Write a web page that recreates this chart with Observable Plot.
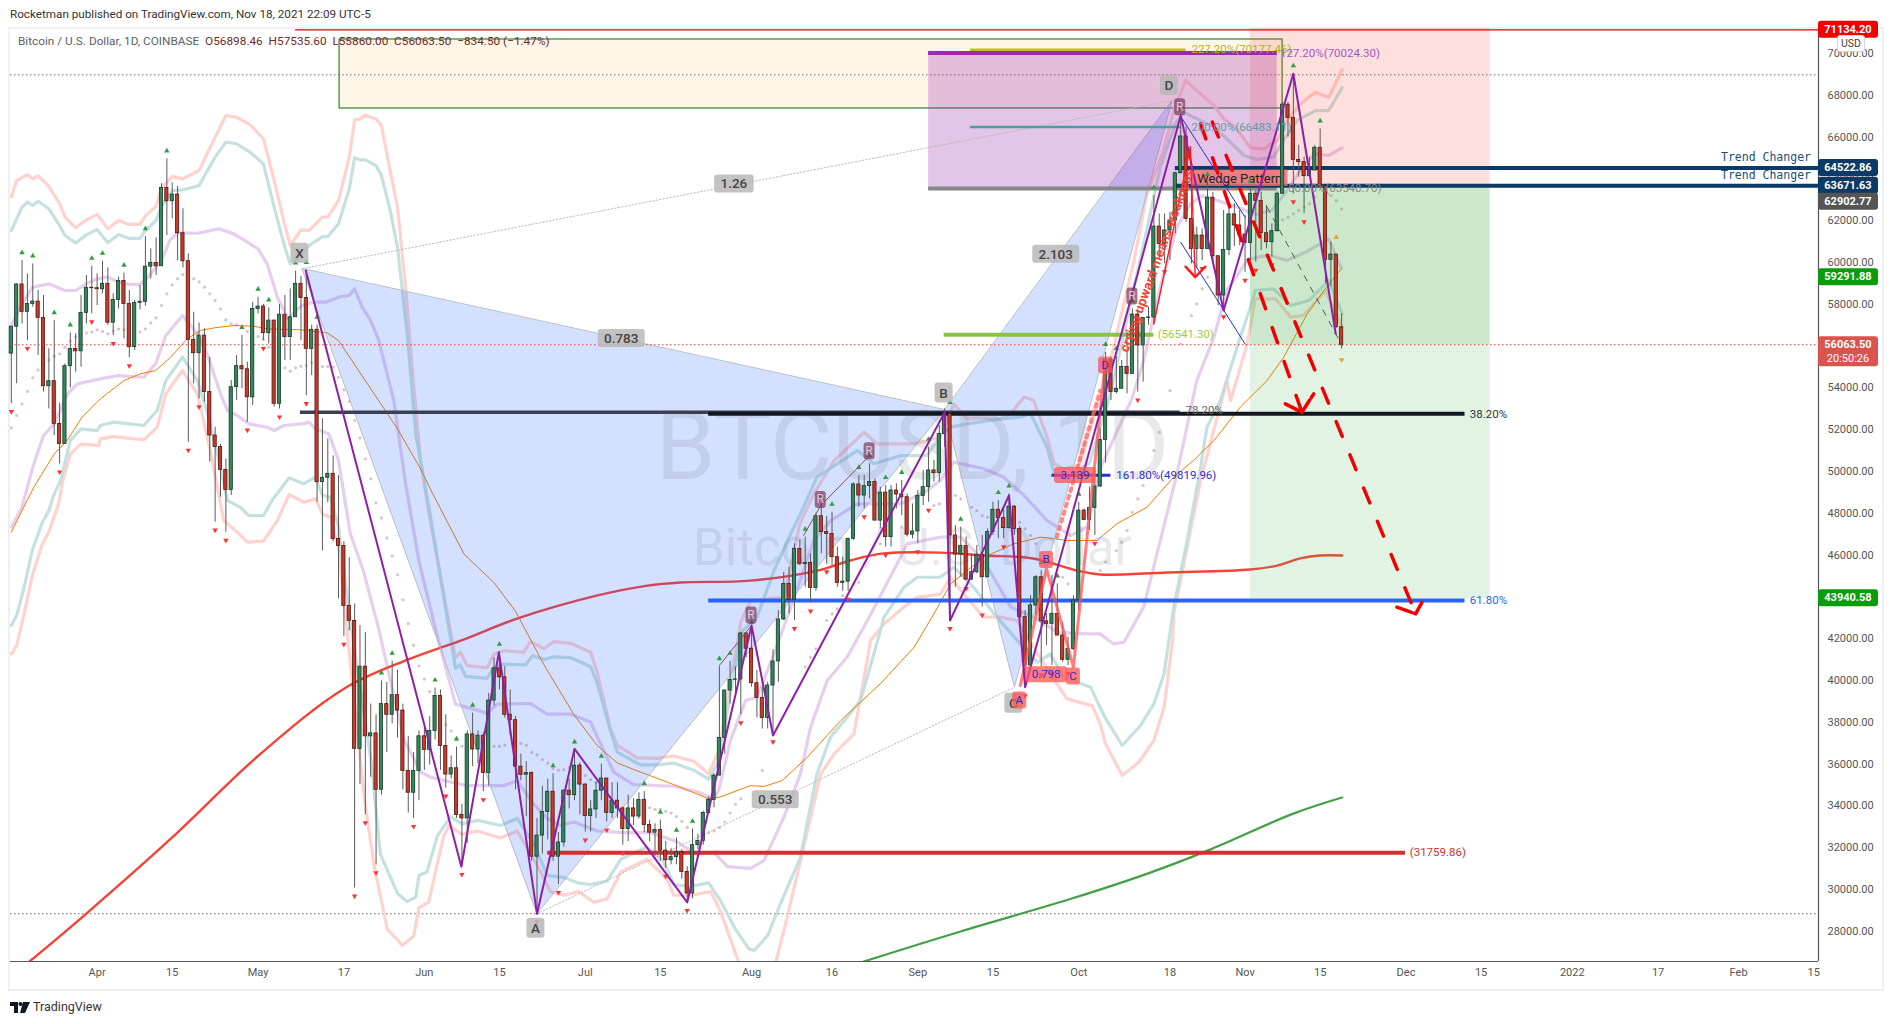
<!DOCTYPE html>
<html><head><meta charset="utf-8">
<script src="https://cdn.jsdelivr.net/npm/d3@7"></script>
<script src="https://cdn.jsdelivr.net/npm/@observablehq/plot@0.6"></script>
<style>
html,body{margin:0;padding:0;background:#fff;width:1892px;height:1024px;overflow:hidden;font-family:Roboto,sans-serif}
#wrap{position:relative;width:1892px;height:1024px}
#wrap svg.chart{position:absolute;left:0;top:0}
.h{position:absolute;white-space:pre}
#frame{position:absolute;left:8px;top:27px;width:1872px;height:960px;border:2px solid #eef0f3}
</style></head><body><div id="wrap">
<div id="frame"></div>
<div class="h" style="left:10px;top:7px;font-size:11.7px;color:#333">Rocketman published on TradingView.com, Nov 18, 2021 22:09 UTC-5</div>
<div id="root"></div>
<div class="h" style="left:18px;top:34px;font-size:11.8px;color:#5d606b;z-index:3">Bitcoin / U.S. Dollar, 1D, COINBASE  <span style="color:#6e2b2b">O56898.46  H57535.60  L55860.00  C56063.50  −834.50 (−1.47%)</span></div>
<div class="h" style="left:1837px;top:35px;width:26px;height:15px;line-height:15px;text-align:center;font-size:10.5px;color:#444;background:#fff;border:1px solid #d5d7dc;border-radius:3px;z-index:3">USD</div>
<svg class="h" style="left:10px;top:1002px" width="20" height="11" viewBox="0 0 20 11"><path d="M0 0H8V11H4V4H0Z M13 0H20L15 11H10Z" fill="#131722"/><circle cx="10.5" cy="2" r="2" fill="#131722"/></svg>
<div class="h" style="left:33px;top:999px;font-size:12.5px;color:#333">TradingView</div>
</div>
<script>
// Daily candles, first one is 16 Mar 2021
const firstDay = -16;
const opens = [
55640,56930,58950,57640,58020,58130,57350,54080,54320,52280,51320,55040,55860,55750,57590,58790,
58770,58720,58980,57120,58210,59120,58020,55950,58070,58120,59800,59980,59820,63570,62930,63250,61400,60060,56300,55660,56500,53800,51720,51170,50080,49120,54035,55040,54890,53550,
57780,57890,56620,57220,53240,57500,56430,57380,58980,58300,55870,56780,49490,49700,49890,46770,46440,43570,42850,36730,40660,37330,37470,34770,38870,38360,39300,38560,35675,34630,35675,
37330,36680,37590,39260,36870,35500,35800,33570,33400,37420,36700,37360,35570,39040,40580,40150,38360,38100,35880,35490,35570,31570,32580,33710,34680,31570,32250,34730,34510,35930,
35020,33520,33830,34730,35310,33660,34250,33880,32890,33880,33490,34290,33090,32720,32850,31860,31400,31550,31780,30840,29810,32120,32320,33660,34290,35450,37250,39520,40030,40050,42250,
41520,39870,39170,38210,39760,40910,42920,44620,43860,46300,45580,45630,44430,47860,47100,47010,45900,44670,44730,46780,49380,48850,49300,49500,47650,48990,46860,49090,48900,48770,46980,
47130,48830,49250,50050,49920,51800,52760,46940,46030,46430,44830,45180,46010,44940,47100,48170,47770,47290,48320,47250,43030,40720,43590,44940,42830,42710,43190,42150,40990,41510,
43830,48130,47680,48260,49280,51510,55360,53800,53960,55000,54670,57510,56030,57350,57370,61720,60890,61530,62010,64270,66030,62090,60650,61290,60650,63100,60300,58420,60600,62300,61770,
61340,60930,63290,62940,61400,60970,61500,63290,67550,66920,64910,64800,64130,64400,65490,63640,60130,60380,56898];
const closes = [
56930,58950,57640,58020,58130,57350,54080,54320,52280,51320,55040,55860,55750,57590,58790,58770,
58720,58980,57120,58210,59120,58020,55950,58070,58120,59800,59980,59820,63570,62930,63250,61400,60060,56300,55660,56500,53800,51720,51170,50080,49120,54035,55040,54890,53550,57780,
57890,56620,57220,53240,57500,56430,57380,58980,58300,55870,56780,49490,49700,49890,46770,46440,43570,42850,36730,40660,37330,37470,34770,38870,38360,39300,38560,35675,34630,35675,37330,
36680,37590,39260,36870,35500,35800,33570,33400,37420,36700,37360,35570,39040,40580,40150,38360,38100,35880,35490,35570,31570,32580,33710,34680,31570,32250,34730,34510,35930,35020,
33520,33830,34730,35310,33660,34250,33880,32890,33880,33490,34290,33090,32720,32850,31860,31400,31550,31780,30840,29810,32120,32320,33660,34290,35450,37250,39520,40030,40050,42250,41520,
39870,39170,38210,39760,40910,42920,44620,43860,46300,45580,45630,44430,47860,47100,47010,45900,44670,44730,46780,49380,48850,49300,49500,47650,48990,46860,49090,48900,48770,46980,47130,
48830,49250,50050,49920,51800,52760,46940,46030,46430,44830,45180,46010,44940,47100,48170,47770,47290,48320,47250,43030,40720,43590,44940,42830,42710,43190,42150,40990,41510,43830,
48130,47680,48260,49280,51510,55360,53800,53960,55000,54670,57510,56030,57350,57370,61720,60890,61530,62010,64270,66030,62090,60650,61290,60650,63100,60300,58420,60600,62300,61770,61340,
60930,63290,62940,61400,60970,61500,63290,67550,66920,64910,64800,64130,64400,65490,63640,60130,60380,56900,56063];
const highs = [
56950,58980,60090,59450,59930,58660,58420,55870,57220,53270,55150,56630,56585,58420,59380,59820,
59460,60060,59740,58500,59300,59490,58660,58180,58900,61240,60650,61180,63770,64960,63810,63640,62570,60410,57620,57100,56830,55470,52120,51290,50600,54350,55550,56510,55230,58100,
58340,57990,57830,57250,57990,58420,58740,59590,59330,59620,57000,57000,52520,51560,50750,49800,46640,45880,43660,42630,42290,38870,38360,39980,39900,40920,40490,38870,37330,36560,37590,
37760,38270,39640,39550,38360,36390,36820,34080,37590,38440,37590,37500,39380,41090,41350,40660,39550,38270,36480,36120,35620,33400,34940,35280,35540,32720,34770,35280,36680,36050,
35075,34250,35140,36000,35310,35110,35110,33950,34510,34340,34630,34680,33320,33140,33320,32290,31950,32460,31900,31090,32890,32630,33740,34430,35540,40660,39550,40920,40660,42290,42290,
42390,40480,39680,39920,41470,43350,45180,45420,46540,46730,46860,46060,48000,48450,47850,48050,46380,45900,46780,49460,49810,49810,50370,49650,49250,49330,49330,49410,49570,48930,48450,
49090,50050,51160,50520,52200,53000,52920,47410,47340,46860,46060,46460,46940,47260,48530,48610,48210,48930,48370,47370,43350,44060,45020,45260,43190,45020,44620,42790,42070,44060,
48530,48210,49250,49490,52040,55700,55470,55500,55310,56660,57780,57780,57350,57860,63205,62320,62320,62400,64320,66950,66475,63525,61690,61610,63840,63360,60300,62490,62810,62810,62490,
62250,63525,63445,63365,62725,61850,63365,67670,67670,69030,65600,65040,65040,65600,66395,63640,60970,60380,57535];
const lows = [
53250,54200,57060,56270,57860,55550,53800,52990,51720,50360,51320,54000,54750,54990,57060,57540,
57940,58500,56985,56510,57780,56350,55440,55790,57730,57910,59220,59380,59940,61290,62090,60090,59730,51400,54190,53480,53320,50450,47580,48770,47090,48850,53400,53960,52360,53160,
57540,56270,56100,53080,52990,55310,55310,57380,56270,53630,54590,48530,46200,48500,46640,43910,42110,42370,30070,35025,33570,35370,31180,34510,36560,37930,37250,34770,33660,33400,34250,
35700,35950,37160,35700,34850,35280,33400,31100,32200,35880,36000,34680,34940,38780,39550,38190,37370,34770,35200,33480,31350,28840,31700,32380,31350,30240,32030,33850,34250,33570,
32750,32750,33400,34250,33230,33400,33400,32120,32290,33060,33370,32720,32290,31600,31350,31010,31180,31180,30490,29380,29550,31900,32120,33660,33910,35450,36480,38870,39380,38360,41090,
39680,38210,37680,37680,37450,39920,42870,43190,42870,45500,44460,43700,44270,46060,45580,45500,44460,44270,44270,46700,48290,48210,48690,47650,47250,46380,46380,48210,47890,46860,46780,
46540,48370,48530,49490,49500,51160,42870,44460,44940,44780,44780,45100,43510,44940,46940,46780,46780,47250,46940,42870,39650,40700,43110,40640,41670,40720,42150,40870,40720,41430,
43350,47650,47180,46940,49250,50400,53400,53715,53950,53715,54670,53796,54274,57000,57060,60160,59940,60090,61370,64240,61930,59935,59700,60090,60650,59935,57940,57780,60330,60765,60800,
59530,60090,60015,60570,60650,60255,61450,63290,66000,63285,64080,62330,64170,64400,63525,59000,58820,56860,55860];

// Pivot markers, as day numbers counted from 1 Apr 2021
const pivotHighDays = [-14,-12,-8,-5,-1,1,5,9,13,27,30,32,37,39,41,53,55,63,67,70,75,85,89,94,102,105,108,111,116,118,122,132,135,137,142,144,147,150,155,159,161,168,170,176,179,183,188,190,193,197,202,207,215,223,228];
const pivotLowDays = [-16,-13,-7,-1,3,6,17,19,22,24,28,31,34,39,46,48,50,52,59,65,68,72,82,86,91,95,98,106,110,120,126,130,133,136,140,143,147,153,155,159,162,165,169,173,176,178,181,186,194,199,206,210,214,216,219,223,225];

// Parabolic dots [day, price]
const sarDots = [[-16,52090],[-15,52680],[-14,53240],[-13,53830],[-12,54480],[-11,54860],[-10,55100],[-9,55340],[-8,55520],[-7,55630],[-6,55950],[-5,56240],[-4,56430],[-3,56590],[-2,56630],[-1,56670],[0,56780],[1,56700],[2,56590],[3,56720],[4,56810],[5,56780],[8,56670],[9,56830],[10,57110],[11,57350],[12,57940],[13,58500],[14,58930],[15,59220],[16,59430],[18,59220],[19,59070],[20,58820],[21,58500],[22,58180],[23,57780],[24,57260],[25,57070],[26,57020],[27,56900],[28,56700],[29,56660],[30,56460],[31,56310],[32,55950],[35,54960],[36,54800],[37,54960],[38,55040],[39,55070],[40,55200],[42,55020],[43,55020],[44,54990],[45,54510],[46,53910],[47,53350],[48,52440],[49,51610],[50,50610],[51,49650],[52,48500],[53,47780],[54,46820],[55,45960],[56,45060],[57,43860],[58,42720],[59,41690],[60,40700],[61,40070],[62,39470],[65,37880],[66,37590],[67,37160],[68,36850],[74,36850],[75,36850],[76,36900],[78,37080],[79,36990],[80,36900],[81,36560],[82,36440],[83,36220],[84,36050],[85,35790],[86,35710],[87,35740],[88,35830],[91,35450],[92,35250],[93,35110],[103,33910],[104,33830],[105,33830],[106,33740],[107,33660],[108,33490],[109,33260],[110,32970],[114,32720],[115,32800],[116,32970],[117,33230],[118,33660],[119,34080],[120,34340],[124,35690],[132,40640],[133,41110],[134,41510],[136,42870],[137,43190],[138,43430],[139,44060],[141,44620],[142,44700],[145,45980],[146,46540],[147,46940],[150,47340],[155,48130],[156,48370],[157,48450],[160,48850],[161,48690],[163,48290],[164,48130],[165,47890],[166,47810],[172,47570],[173,47250],[174,46940],[175,46540],[180,44940],[181,44620],[187,45260],[188,45660],[190,46220],[191,46620],[192,47180],[193,48050],[194,48690],[195,49330],[197,51000],[198,51880],[200,53870],[202,56110],[204,57460],[205,58020],[206,58740],[207,59300],[221,62040],[222,62170],[223,62330],[224,62490],[225,62650],[226,62810],[227,63130],[230,63200],[231,62960],[232,62560]];

// Envelope bands [day, price]
const pinkUpper = [[-16,63130],[-15,63920],[-13,64210],[-12,64000],[-11,64160],[-9,63640],[-7,62810],[-6,62170],[-4,61660],[-2,62040],[0,62300],[2,61610],[4,62010],[6,61820],[8,61820],[9,62250],[11,62680],[12,63570],[14,64110],[16,64000],[19,64400],[22,65990],[24,67030],[26,66950],[28.5,66600],[31,65920],[33,63920],[35,61770],[36,60810],[38,61560],[39.5,61530],[42,62170],[43,62170],[45,62970],[47,65040],[48,66825],[49,66860],[50,67050],[52,66870],[53,66550],[54.5,64560],[56,62650],[57.5,58820],[59,54190],[60.3,50490],[62,47780],[66.8,41090],[67.7,41350],[69,40715],[72.7,40610],[74,41260],[75.8,41430],[79.5,41350],[80.8,41860],[83.3,41520],[85.1,41860],[88.3,41780],[92,41350],[93.2,40410],[95.7,37670],[97,36900],[100.7,36300],[104.4,36270],[107.5,36390],[111.2,36140],[114,35540],[115.9,36650],[120,42800],[121.8,43826],[128,43980],[131,47500],[133.6,48930],[137.4,50520],[143,51880],[145.4,51320],[152.3,51320],[157.2,51640],[159.7,53240],[162.2,52520],[168.4,52520],[170.3,52760],[172.8,53560],[174.6,53400],[177.1,51640],[178.4,50370],[180.2,50130],[183,50300],[187,53550],[188.9,55310],[193.3,60095],[195.7,63285],[198.8,65360],[200.7,67270],[202.9,68710],[205,68230],[208.2,67510],[210,66875],[212.5,66395],[215,65490],[217.5,65440],[220,65840],[221.8,66795],[224.3,67590],[227.1,68150],[229.6,67910],[232.1,69220]];
const tealUpper = [[-16,61530],[-14,62650],[-13,62890],[-12,62730],[-11,62930],[-9,62570],[-7,61770],[-6,61290],[-4,60940],[-2,61320],[0,61580],[2,60940],[4,61340],[6,61150],[8,61150],[9,61530],[11,62010],[12,62680],[14,63440],[16,63480],[19,63680],[22,65040],[24,65760],[26,65680],[28.5,65280],[31,64720],[33,62650],[35,60730],[36,59930],[38,60330],[39.5,60810],[42,61240],[43,61240],[45,61850],[47,63520],[48,65010],[49,64910],[50,64910],[52,64640],[53,64160],[54.5,62650],[56,60730],[57.8,56590],[59.4,51800],[62.2,47760],[66.8,40580],[67.7,40750],[68.7,40200],[72.7,40100],[74,40660],[75.8,40780],[79.9,40750],[81.1,41180],[83.3,41010],[85.1,41130],[88.3,41090],[92,40660],[93.2,39900],[95.7,37590],[97,36560],[101.3,35960],[104.4,35960],[107.5,36050],[111.2,35710],[114,35280],[115.9,36130],[120,42290],[123,43030],[126.2,45260],[129.3,47020],[131.1,47970],[134.2,49730],[141.7,51000],[144.8,50370],[149.8,50760],[154.7,50760],[157.2,51720],[159.1,52120],[162.2,52280],[168.4,52520],[172.1,52600],[174,52760],[177.1,51160],[178.4,49890],[180.8,49650],[185,50400],[188.9,53715],[195.1,60890],[198.2,64560],[201,66635],[202.6,67190],[205.7,66790],[208.2,66475],[210.6,65920],[213.8,65120],[216.2,64930],[219.3,65040],[221.2,65840],[223.7,66795],[227.1,67270],[229.6,67270],[232.1,68360]];
const mauveUpper = [[-16,56985],[-14,58020],[-12,58820],[-9,58980],[-6,58660],[-4,58660],[-2,58980],[0,59220],[2,59300],[4,59060],[6,58950],[8,58950],[9.5,59300],[12,60090],[13.5,61050],[15,61420],[18.7,61400],[22.7,61610],[25.5,61370],[30,60650],[31.7,59930],[33.6,58340],[35.6,57300],[36.7,57620],[38.2,57940],[40.4,58100],[42.6,58100],[45,58340],[47,58420],[48,58740],[49.4,57860],[51,57220],[52.5,56270],[55.3,53400],[57.5,49410],[60,45700],[63.4,42120],[66.8,38870],[72.7,38440],[74.6,38870],[80.8,38900],[83.9,38390],[88.3,38390],[92,38010],[93.8,36990],[96.3,35620],[100,35020],[107.5,34940],[111.9,34680],[115,34340],[115.9,34770],[118.1,37160],[120.9,39040],[123,39200],[126.2,41270],[130.2,44150],[133.6,46700],[136.7,47650],[141.7,48450],[149.8,48450],[154.7,49090],[157.2,49570],[159.7,50450],[165.3,50130],[169,49730],[172.8,48850],[177.1,47650],[181.5,46940],[184.6,47330],[187.1,50210],[192.9,53475],[195.1,55310],[198.2,58820],[201.3,61690],[203.8,62800],[206,63200],[212,62700],[216,62300],[219,62500],[222,63500],[225,64700],[227.1,65200],[229.6,65120],[232.1,65480]];
const mauveLower = [[-16,47335],[-14,48300],[-12,50200],[-10,51720],[-8,52280],[-5.5,53715],[-3.7,54190],[0.6,54430],[3.8,54590],[8.7,54510],[10.9,55150],[12.8,56500],[15.9,57460],[18.7,56590],[20.5,55630],[23,53715],[24.3,52920],[26.1,52680],[28.3,52280],[31.7,52120],[33,51960],[34.8,52200],[38.2,52280],[39.5,52360],[40.7,52040],[43.2,51800],[45,50530],[47.2,47020],[49.7,45200],[52.5,42460],[57.2,37160],[60.3,35620],[62.2,35370],[65,35200],[69,34970],[75.8,34970],[78.3,35200],[81.4,34080],[83.9,33400],[86.4,33060],[88.9,33230],[93.2,32800],[98.2,32720],[103.2,32720],[108.1,32290],[111.6,31690],[115,31780],[117.5,31090],[121.8,31010],[124.3,31380],[128,33440],[131.1,35530],[133,37760],[136.1,40000],[139.8,41110],[143.6,42870],[148.5,45260],[151,46540],[157.2,46860],[161,46860],[165.3,45740],[170.3,43510],[174.6,43030],[179,42310],[183.9,42230],[187,42230],[189.5,41750],[191.4,41830],[195.1,43510],[198.2,46700],[201.3,49890],[205,54350],[208.2,56425],[210.6,58660],[214.4,60095],[216.2,60255],[218.7,60330],[221.8,60095],[225.9,60575],[229.6,61130],[231.8,59775]];
const tealLower = [[-16,42630],[-15,43110],[-13.6,44460],[-12.1,46220],[-10.2,47575],[-9,48130],[-8,48930],[-6.8,49570],[-5,51480],[-3,52040],[0,51960],[0.6,52200],[3,52360],[8.7,52200],[11.2,52920],[12.8,54350],[15.9,55470],[18.7,54350],[20.8,52600],[23,50200],[24.3,48610],[26.7,48290],[28.3,47890],[31,47890],[32.6,48610],[35.8,49700],[38.5,49410],[40.7,49730],[42,48850],[43.5,48770],[45,47335],[47.2,42800],[51,36300],[52.8,31690],[56,29810],[57.8,29420],[59.4,29640],[60,30670],[61.5,30840],[63.4,32550],[65.9,33490],[68,33140],[70.9,33310],[75.2,33060],[78.3,33400],[81.4,32200],[83.9,30670],[87,30580],[89.5,30320],[92,30240],[95.1,30410],[97.6,31440],[102.5,32030],[105.6,31350],[107.5,30240],[110.6,30150],[114,30320],[116.2,29470],[119,28100],[121.5,27160],[122.5,27080],[125,27800],[127.4,29330],[131.1,31530],[134.2,35530],[136.7,37290],[139.8,38240],[142.3,39040],[144.8,41270],[146.7,43030],[150.4,44460],[152.9,44940],[157.2,44940],[159.7,45420],[163.4,44460],[167.2,43190],[172.1,41750],[175.3,40870],[177.7,41270],[180.2,40160],[185.2,39680],[187.7,38320],[191.1,36890],[194.5,37845],[197,38880],[198.9,40320],[199.8,41910],[200.7,43510],[203.2,46700],[205.7,50200],[206.9,52120],[209.4,53400],[213.1,56425],[215,57860],[215.9,58660],[219.3,58740],[222.5,57940],[225.9,58180],[229.6,59140],[232.1,57540]];
const pinkLower = [[-16,41274],[-15,41670],[-13.6,43190],[-12.1,45020],[-10.2,46540],[-9,47100],[-7.1,48530],[-6.4,49570],[-5,50840],[-3,51320],[0.3,51240],[0.6,51560],[3,51670],[8.7,51510],[11.2,52120],[12.8,53715],[15.9,54830],[18.7,53715],[21.1,51000],[23.6,47655],[26.1,47100],[28,46620],[31,46670],[33.6,47655],[35.8,48900],[38.5,48530],[40.7,48690],[42,47970],[43.5,47810],[45,46380],[49.7,34600],[51.6,31180],[54.1,28100],[56.9,27330],[59,27760],[60,29130],[61.8,29390],[64.6,32550],[65.6,33060],[68,32630],[70.9,32800],[75.2,32460],[78.3,32800],[82,31180],[84.5,29900],[87,29725],[89.8,29900],[92.6,29390],[95.1,29560],[97.6,30840],[102.5,31440],[106.3,30490],[107.5,29725],[110.6,29725],[114.4,29900],[116.2,28960],[119.3,26740],[122,25000],[125,25000],[128.5,28515],[134.9,35530],[137.4,36490],[141.1,37450],[144.2,41910],[146.7,42710],[150.4,43510],[152.9,43980],[157.2,44140],[159.1,44940],[161.6,44140],[165.3,43030],[168.4,43030],[171.5,42870],[174.6,41590],[177.7,40320],[180.8,39120],[185.5,38800],[187,37920],[188,36970],[191.1,35450],[194.2,36090],[197,37130],[198.9,38720],[200.5,41910],[200.7,43190],[205.7,49570],[210.6,54350],[211.3,53400],[214.4,56100],[215.9,58260],[219.7,58260],[222.5,57385],[224.9,57465],[229,58660],[232.1,56905]];
const orangeMA = [[-16,47100],[-11.8,49250],[-8,50840],[-5.6,51480],[-2.8,52600],[0.6,53475],[5,54350],[8,54670],[10.9,54830],[13.7,55470],[16.8,56350],[19.3,56750],[21.8,56870],[25.5,56985],[29.2,56950],[31.7,56825],[37.9,56780],[42.9,56630],[45,56270],[50.4,54190],[56,52040],[60.3,50130],[62.2,49120],[68.4,46050],[74,44680],[78,43310],[83.3,40750],[88.9,38360],[93.2,36900],[97,36050],[101.3,35620],[107.5,35020],[114,34340],[116.2,34430],[121.8,34970],[124.3,34930],[127.7,35210],[132.4,36330],[138.6,38080],[146,39840],[152.3,41590],[156,43190],[159.1,44620],[165.3,45900],[170.9,46540],[175.9,46860],[180.8,46700],[186.4,46700],[190.1,47500],[195.7,48290],[200.7,49730],[204.4,50530],[208.2,51480],[213.1,53080],[218.1,54350],[221.2,55470],[225.6,57540],[228.7,58660],[232.1,59745]];
const redMA = [[-12.6,26555],[-2,28850],[14,32490],[30.1,36410],[46.1,39620],[57.9,41000],[68.3,41960],[78.4,42970],[93.3,44070],[102.6,44540],[108.7,44690],[121.8,44780],[134.3,45260],[140.4,45740],[146.6,46080],[157.2,46120],[165.2,45980],[174.5,45840],[182.7,45260],[187,45070],[199.5,45170],[215,45310],[220,45500],[224.3,45840],[228,45980],[232.1,45980]];
const greenMA = [[142.9,26555],[160.95,27990],[182,29590],[195.8,30760],[207,31860],[223,33630],[232.1,34400]];

// Drawn patterns [day, price]
const triangleXAB = [[38.2,59700],[82,28840],[158,52950]];
const triangleBCD = [[158,52950],[171,39680],[200.4,67750]];
const zigzag = [[38.9,59620],[67.9,31093],[74.9,41350],[82,28840],[89,36730],[110,29380],[122,42630],[126,37370],[158,52840],[159,42870],[170,48850],[173,39680],[202,67030],[210,57700],[223,69030],[230.9,56586]];
const coralPattern = [[172.1,39760],[177,45340],[182,40640],[188,55310]];
const coralDots = [[178.9,46860],[187,53870]];
const forecastOne = [[205.7,66635],[224.6,52838]];
const forecastOneHead = [[221.5,53236],[224.6,52838],[226.8,53715]];
const forecastTwo = [[207.9,66715],[245.8,43190]];
const forecastTwoHead = [[242.3,43507],[245.8,43190],[247,43750]];
const wedgeTop = [[202.3,66875],[214,62170]];
const wedgeBottom = [[202,60970],[214,56100]];
const fadeLine = [[218.1,62650],[232.1,56030]];
const dottedXD = [[38.2,59700],[200.4,67750]];
const dottedAC = [[82,28840],[171,39680]];
const arrowShaft = [[197,57060],[203.8,65540],[204.7,59380]];
const arrowHead = [[202.9,59800],[204.7,59300],[206.6,59800]];
const maroonOne = [[116,40720],[122,42630]];
const maroonTwo = [[131.7,46940],[134.9,48370],[144,50760]];

// Levels: price, first day, last day
const levels = [
 {p:52838,a:37.9,b:201.9,c:"#3a3f52",w:3.5},
 {p:52758,a:114,b:255,c:"#131722",w:4},
 {p:43830,a:114,b:255,c:"#2962ff",w:4},
 {p:31759.86,a:84,b:243.9,c:"#d32f2f",w:4},
 {p:56541.3,a:157.9,b:197,c:"#8bc34a",w:4},
 {p:66483.11,a:162.8,b:202,c:"#4a9ea0",w:2.5},
 {p:70177.46,a:162.8,b:203,c:"#b5c22d",w:2.5},
 {p:49819.96,a:178,b:189,c:"#2a2fd0",w:3},
 {p:70024.3,a:155,b:220,c:"#9c27b0",w:4},
 {p:63546,a:155,b:220,c:"#888888",w:4},
 {p:64522.86,a:201,b:320.9,c:"#0b3a66",w:4},
 {p:63671.63,a:201,b:320.9,c:"#0b3a66",w:4}
];
const fibLabels = [
 {t:"227.20%(70177.46)",d:204,p:70177,c:"#a8b820"},
 {t:"127.20%(70024.30)",d:220.5,p:70024,c:"#a855c8"},
 {t:"200.00%(66483.11)",d:204,p:66483,c:"#5a9fa8"},
 {t:"(56541.30)",d:197.7,p:56541,c:"#9ccc3c"},
 {t:"78.20%",d:202.9,p:52950,c:"#666"},
 {t:"38.20%",d:255.9,p:52758,c:"#333"},
 {t:"61.80%",d:255.9,p:43830,c:"#2962ff"},
 {t:"(31759.86)",d:244.7,p:31759,c:"#d32f2f"},
 {t:"161.80%(49819.96)",d:190,p:49819,c:"#2a2fd0"},
 {t:"50.00%(63548.70)",d:222,p:63548,c:"#888"}
];
const grayTags = [["X",37.8,60440],["A",81.8,28140],["B",157.9,53750],["C",170.9,38910],["D",199.9,68470],["1.26",118.8,63760],["0.783",97.8,56360],["2.103",178.8,60400],["0.553",126.5,34300]];
const redTags = [["0.798",177,40270],["3.139",182.4,49810],["A",172,39040],["C",182,40190],["B",177,45770],["D",188,55070]];
const maroonTags = [["R",122,43110],["R",134.9,48640],["R",144,50970],["R",193,58370],["R",201.9,67430]];
const axisTags = [[71134,"71134.20","#f00000"],[64522.86,"64522.86","#0b3a66"],[63671.63,"63671.63","#0b3a66"],[62902.77,"62902.77","#555555"],[59291.88,"59291.88","#0a9c0a"],[43940.58,"43940.58","#0a9c0a"]];
const priceTicks = d3.range(28000,70001,2000);
const timeTickDays = [0,14,30,46,61,75,91,105,122,137,153,167,183,200,214,228,244,258,275,291,306,320];
const timeTickLabels = ["Apr","15","May","17","Jun","15","Jul","15","Aug","16","Sep","15","Oct","18","Nov","15","Dec","15","2022","17","Feb","15"];

const D = n => new Date(Date.UTC(2021,3,1)+n*864e5);
const pts = a => a.map(([d,p])=>({x:D(d),y:p}));
const candles = closes.map((c,i)=>({d:firstDay+i,o:opens[i],h:highs[i],l:lows[i],c}));
const candleAt = d => candles[d-firstDay];
const upC = candles.filter(c=>c.c>=c.o), dnC = candles.filter(c=>c.c<c.o);
const rowOf = c => ({x1:D(c.d-0.3),x2:D(c.d+0.3),y1:c.o,y2:c.c});
const yMin=26555,yMax=71196,xMin=D(-16.15),xMax=D(320.9);
const ln=(a,stroke,strokeWidth,extra={})=>Plot.line(pts(a),{x:"x",y:"y",stroke,strokeWidth,clip:true,...extra});
const band=(a,c)=>ln(a,c,3.2,{strokeOpacity:.9});
const box=(a,b,p1,p2,fill,fillOpacity)=>Plot.rect([{x1:D(a),x2:D(b),y1:p1,y2:p2}],{x1:"x1",x2:"x2",y1:"y1",y2:"y2",fill,fillOpacity,clip:true});

const chart = Plot.plot({
 width:1892,height:1024,marginLeft:10,marginRight:74,marginTop:28,marginBottom:63,
 className:"tv",
 style:{fontFamily:"Roboto, sans-serif",fontSize:"11px",background:"transparent",overflow:"visible"},
 x:{type:"utc",domain:[xMin,xMax]},
 y:{domain:[yMin,yMax]},
 marks:[
  box(45.2,221,67370,70670,"#ff9800",.09),
  Plot.rect([{x1:D(45.2),x2:D(221),y1:67370,y2:70670}],{x1:"x1",x2:"x2",y1:"y1",y2:"y2",fill:"none",stroke:"#3a8f3a",strokeWidth:1.3}),
  Plot.ruleY([68980],{stroke:"#666",strokeDasharray:"1.5,2.5",strokeWidth:1}),
  Plot.ruleY([28840],{stroke:"#666",strokeDasharray:"1.5,2.5",strokeWidth:1}),
  band(pinkUpper,"#ffcdc9"),band(pinkLower,"#ffcdc9"),band(tealUpper,"#bfdedb"),band(tealLower,"#bfdedb"),band(mauveUpper,"#e3c9ec"),band(mauveLower,"#e3c9ec"),
  Plot.dot(pts(sarDots),{x:"x",y:"y",r:1.6,fill:"#dcc4c4"}),
  ln(greenMA,"#43a047",2.2,{curve:"catmull-rom"}),
  ln(redMA,"#f44336",2.4,{curve:"catmull-rom"}),
  ln(orangeMA,"#f57c00",1),
  box(215,259.7,63600,yMax,"#f44336",.17),
  box(215,259.7,56063,63600,"#4caf50",.29),
  box(215,259.7,43920,56063,"#4caf50",.16),
  Plot.line(pts(triangleXAB),{x:"x",y:"y",fill:"#2962ff",fillOpacity:.2,stroke:"#b7bcc8",strokeWidth:1,curve:"linear-closed"}),
  Plot.line(pts(triangleBCD),{x:"x",y:"y",fill:"#2962ff",fillOpacity:.2,stroke:"#b7bcc8",strokeWidth:1,curve:"linear-closed"}),
  box(155,220,63546,70024,"#9c27b0",.27),
  ln(dottedXD,"#bbb",1,{strokeDasharray:"1.5,2"}),
  ln(dottedAC,"#bbb",1,{strokeDasharray:"1.5,2"}),
  Plot.text(["BTCUSD, 1D"],{x:D(152),y:51100,fontSize:96,fill:"#787b86",fillOpacity:.17,text:d=>d}),
  Plot.text(["Bitcoin / U.S. Dollar"],{x:D(152),y:46300,fontSize:51,fill:"#787b86",fillOpacity:.17,text:d=>d}),
  Plot.ruleY(levels,{y:"p",x1:d=>D(d.a),x2:d=>D(d.b),stroke:"c",strokeWidth:"w"}),
  Plot.ruleY([71134],{x1:D(37),x2:xMax,stroke:"#e00000",strokeWidth:1.2}),
  Plot.ruleY([56063],{stroke:"#e53935",strokeDasharray:"1.5,2.5",strokeWidth:1}),
  Plot.rect([{x1:D(204),x2:D(222),y1:63640,y2:64420}],{x1:"x1",x2:"x2",y1:"y1",y2:"y2",fill:"#f07070",fillOpacity:.85}),
  Plot.text(["Wedge Pattern"],{x:D(213),y:64000,text:d=>d,fontSize:13,fill:"#222"}),
  Plot.ruleX(candles,{x:d=>D(d.d),y1:"l",y2:"h",stroke:"#5a5a5a",strokeWidth:1}),
  Plot.rect(upC.map(rowOf),{x1:"x1",x2:"x2",y1:"y1",y2:"y2",fill:"#37855c",stroke:"#123b28",strokeWidth:.8}),
  Plot.rect(dnC.map(rowOf),{x1:"x1",x2:"x2",y1:"y1",y2:"y2",fill:"#c93a2b",stroke:"#4f160e",strokeWidth:.8}),
  Plot.dot(pivotHighDays.map(candleAt),{x:d=>D(d.d),y:"h",dy:-8,symbol:"triangle",r:2,fill:"#2e9e3c"}),
  Plot.dot(pivotLowDays.map(candleAt),{x:d=>D(d.d),y:"l",dy:8,symbol:"triangle",r:2,fill:"#f33",rotate:180}),
  Plot.dot([{d:231,p:61200}],{x:d=>D(d.d),y:"p",symbol:"triangle",r:2,fill:"#f59a23"}),
  Plot.dot([{d:232,p:55350}],{x:d=>D(d.d),y:"p",symbol:"triangle",r:2,fill:"#f59a23",rotate:180}),
  ln(wedgeTop,"#2b2be0",1),ln(wedgeBottom,"#2b2be0",1),
  ln(fadeLine,"#555",1,{strokeDasharray:"6,7"}),
  ln(maroonOne,"#8a4a62",1),ln(maroonTwo,"#8a4a62",1),
  ln(coralPattern,"#ff5252",3,{strokeOpacity:.75}),
  ln(coralDots,"#ff6b6b",4,{strokeDasharray:"3,5",strokeOpacity:.8}),
  ln(zigzag,"#8e1ea8",2),
  ln(arrowShaft,"#ff1a1a",1.4),ln(arrowHead,"#ff1a1a",2.4),
  ln(forecastOne,"#f00000",3.5,{strokeDasharray:"16,20"}),
  ln(forecastOneHead,"#f00000",3.5,{strokeDasharray:"15,3"}),
  ln(forecastTwo,"#f00000",3.5,{strokeDasharray:"16,20"}),
  ln(forecastTwoHead,"#f00000",3.5,{strokeDasharray:"15,3"}),
  Plot.text(["crying upward means weakness"],{x:D(197.6),y:60095,text:d=>d,rotate:-70,fontSize:13.5,fontWeight:"bold",fill:"#f44336"}),
  Plot.text(fibLabels,{x:d=>D(d.d),y:"p",text:"t",fill:"c",textAnchor:"start",fontSize:11.5}),
  Plot.text(["Trend Changer"],{x:D(319.5),y:65020,text:d=>d,textAnchor:"end",fontFamily:"DejaVu Sans Mono",fontSize:11.5,fill:"#1c4f7c"}),
  Plot.text(["Trend Changer"],{x:D(319.5),y:64160,text:d=>d,textAnchor:"end",fontFamily:"DejaVu Sans Mono",fontSize:11.5,fill:"#1c4f7c"}),
  Plot.ruleY([yMin],{stroke:"#555",strokeWidth:1.2}),
  Plot.ruleX([xMax],{stroke:"#555",strokeWidth:1.2}),
  Plot.axisY({anchor:"right",ticks:priceTicks,tickFormat:d3.format(".2f"),tickSize:0,tickPadding:9,label:null,fontSize:11,stroke:"#555",fill:"#555"}),
  Plot.axisX({anchor:"bottom",ticks:timeTickDays.map(D),tickFormat:d=>timeTickLabels[timeTickDays.indexOf(Math.round((+d-Date.UTC(2021,3,1))/864e5))],tickSize:0,tickPadding:7,label:null,fontSize:11,fill:"#555"})
 ]
});
chart.classList.add("chart");
document.getElementById("root").appendChild(chart);

const sx=chart.scale("x"), sy=chart.scale("y");
const g=d3.select(chart).append("g").attr("font-family","Roboto, sans-serif");
function tag(px,py,label,bg,fg,opacity,size,w,h,weight){
 g.append("rect").attr("x",px-w/2).attr("y",py-h/2).attr("width",w).attr("height",h).attr("rx",3).attr("fill",bg).attr("fill-opacity",opacity);
 g.append("text").attr("x",px).attr("y",py).attr("text-anchor","middle").attr("dominant-baseline","central").attr("font-size",size).attr("font-weight",weight||"normal").attr("fill",fg).text(label);
}
grayTags.forEach(([t,d,p])=>{const W=t.length>1?t.length*7.4+10:18; tag(sx.apply(D(d)),sy.apply(p),t,"#b9b9b9","#444",.85,13.5,W,t.length>1?18:20,"500");});
maroonTags.forEach(([t,d,p])=>tag(sx.apply(D(d)),sy.apply(p),t,"#7b3a5e","#e6c8d8",.72,12,11,17));
redTags.forEach(([t,d,p])=>{const W=t.length>1?t.length*6.8+8:14; tag(sx.apply(D(d)),sy.apply(p),t,"#ff5252","#2a2fd0",.75,11.5,W,t.length>1?16:17);});
const axisX=sx.apply(xMax)+30;
axisTags.forEach(([p,t,c])=>tag(axisX,sy.apply(p),t,c,"#fff",1,11,60,17,"bold"));
tag(axisX,sy.apply(56063)+7,"56063.50","#d9534f","#fff",1,11,60,30,"bold");
g.selectAll("text").filter(function(){return this.textContent==="56063.50"}).attr("y",sy.apply(56063));
g.append("text").attr("x",axisX).attr("y",sy.apply(56063)+14).attr("text-anchor","middle").attr("dominant-baseline","central").attr("font-size",11).attr("fill","#fff").text("20:50:26");
</script>
</body></html>
